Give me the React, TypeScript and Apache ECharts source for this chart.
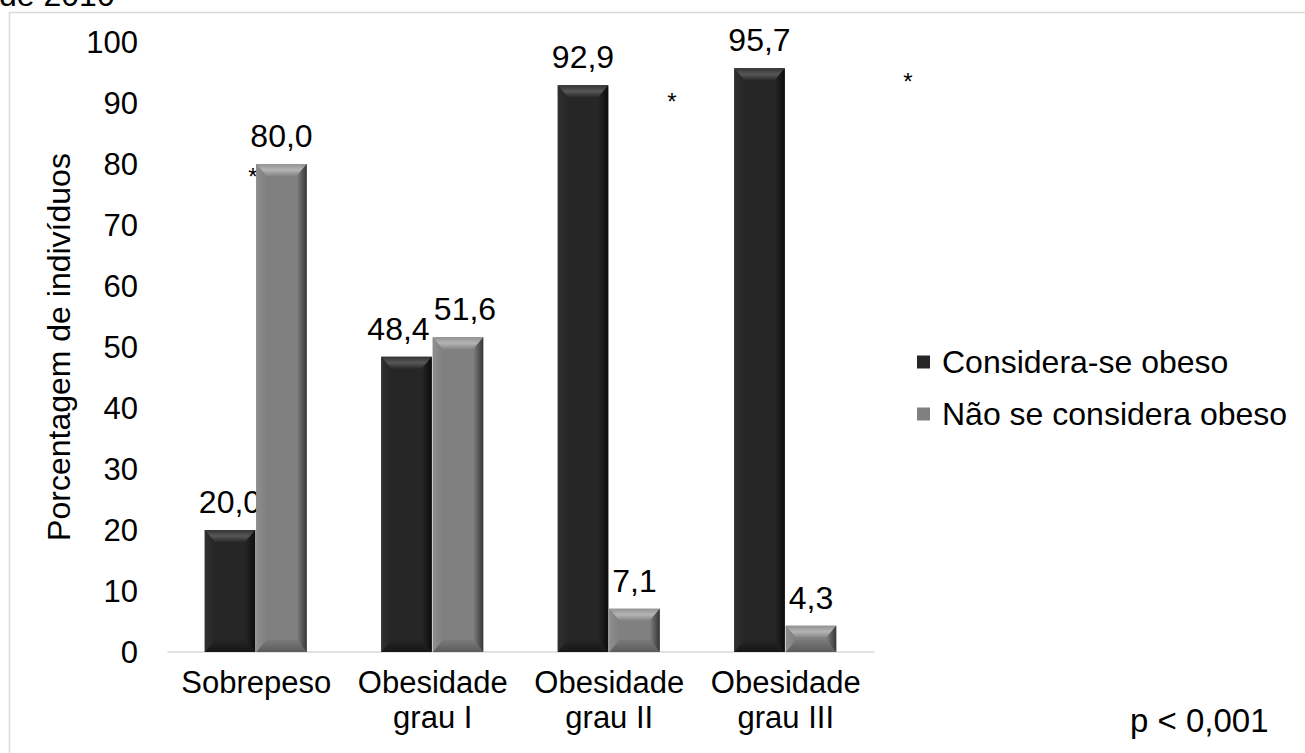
import React, { useEffect, useRef } from "react";
import * as echarts from "echarts";

const categories = ["Sobrepeso", "Obesidade\ngrau I", "Obesidade\ngrau II", "Obesidade\ngrau III"];
const seriesNames = ["Considera-se obeso", "Não se considera obeso"];
const consideraValues = [20.0, 48.4, 92.9, 95.7];
const naoConsideraValues = [80.0, 51.6, 7.1, 4.3];
const yTicks = { min: 0, max: 100, interval: 10 };

// label horizontal nudges (style only)
const labelNudge = [
  [0, -8, 0, 0],
  [0, 7, 0, 0],
];

const FONT = "Liberation Sans, Arial, sans-serif";

const palettes = [
  {
    face: "#262626",
    top: ["#333333", "#575757", "#2a2a2a"],
    left: ["#303030", "#262626"],
    right: ["#262626", "#0c0c0c"],
    bottom: ["#262626", "#161616"],
  },
  {
    face: "#808080",
    top: ["#939393", "#b4b4b4", "#858585"],
    left: ["#8e8e8e", "#808080"],
    right: ["#808080", "#363636"],
    bottom: ["#7a7a7a", "#5c5c5c"],
  },
];

const fmt = (v: number) => v.toFixed(1).replace(".", ",");

const makeRender = (si: number) => (params: any, api: any) => {
  const cat = api.value(0);
  const v = api.value(1);
  const band = api.size([1, 0])[0];
  const w = band * 0.286;
  const [cx, yTop] = api.coord([cat, v]);
  const [, yBase] = api.coord([cat, 0]);
  const x0 = si === 0 ? cx - 1 - w : cx;
  const h = yBase - yTop;
  const b = Math.min(12, h / 2);
  const s = Math.min(10, w / 2);
  const p = palettes[si];
  const lin = (x2: number, y2: number, cols: string[]) => ({
    type: "linear",
    x: 0,
    y: 0,
    x2,
    y2,
    colorStops: cols.map((c, i) => ({ offset: i / (cols.length - 1), color: c })),
  });
  const nudge = labelNudge[si][params.dataIndex] || 0;
  return {
    type: "group",
    children: [
      { type: "rect", shape: { x: x0, y: yTop, width: w, height: h }, style: { fill: p.face } },
      {
        type: "polygon",
        shape: { points: [[x0, yTop], [x0 + w, yTop], [x0 + w - s, yTop + b], [x0 + s, yTop + b]] },
        style: { fill: lin(0, 1, p.top) },
      },
      {
        type: "polygon",
        shape: { points: [[x0, yBase], [x0 + w, yBase], [x0 + w - s, yBase - b], [x0 + s, yBase - b]] },
        style: { fill: lin(0, 1, p.bottom) },
      },
      {
        type: "polygon",
        shape: { points: [[x0, yTop], [x0 + s, yTop + b], [x0 + s, yBase - b], [x0, yBase]] },
        style: { fill: lin(1, 0, p.left) },
      },
      {
        type: "polygon",
        shape: { points: [[x0 + w, yTop], [x0 + w - s, yTop + b], [x0 + w - s, yBase - b], [x0 + w, yBase]] },
        style: { fill: lin(1, 0, p.right) },
      },
      {
        type: "text",
        style: {
          text: fmt(v),
          x: x0 + w / 2 + nudge,
          y: yTop - 28,
          align: "center",
          verticalAlign: "middle",
          fontSize: 32,
          fontFamily: FONT,
          fill: "#000",
        },
      },
    ],
  };
};

export default function App() {
  const ref = useRef<HTMLDivElement>(null);
  useEffect(() => {
    if (!ref.current) return;
    const chart = echarts.init(ref.current, undefined, { renderer: "svg" });
    const dataSets = [consideraValues, naoConsideraValues];
    const star = (x: number, y: number) => ({
      type: "text",
      x,
      y,
      style: { text: "*", fontSize: 24, fontFamily: FONT, fill: "#000", align: "center", verticalAlign: "middle" },
    });
    chart.setOption({
      animation: false,
      backgroundColor: "#ffffff",
      textStyle: { fontFamily: FONT },
      grid: { left: 168, right: 431, top: 42, bottom: 101 },
      legend: {
        orient: "vertical",
        left: 917,
        top: 346,
        padding: 0,
        itemWidth: 13,
        itemHeight: 13,
        itemGap: 20,
        icon: "rect",
        textStyle: { fontSize: 32, color: "#000", fontFamily: FONT, lineHeight: 32, padding: [0, 0, 0, 7] },
        data: seriesNames.map((n, i) => ({ name: n, itemStyle: { color: palettes[i].face } })),
      },
      xAxis: {
        type: "category",
        data: categories,
        axisLine: { lineStyle: { color: "#d9d9d9", width: 1.5 } },
        axisTick: { show: false },
        axisLabel: { interval: 0, fontSize: 31, color: "#000", lineHeight: 35, margin: 13, fontFamily: FONT },
      },
      yAxis: {
        type: "value",
        min: yTicks.min,
        max: yTicks.max,
        interval: yTicks.interval,
        axisLine: { show: false },
        axisTick: { show: false },
        splitLine: { show: false },
        axisLabel: { fontSize: 31, color: "#000", margin: 30, fontFamily: FONT },
        name: "Porcentagem de indivíduos",
        nameLocation: "middle",
        nameGap: 85,
        nameTextStyle: { fontSize: 32, color: "#000", fontFamily: FONT },
      },
      series: dataSets.map((vals, si) => ({
        type: "custom",
        name: seriesNames[si],
        itemStyle: { color: palettes[si].face },
        renderItem: makeRender(si),
        encode: { x: 0, y: 1 },
        data: vals.map((v, i) => [i, v]),
      })),
      graphic: [
        {
          type: "rect",
          shape: { x: 9.5, y: 12.5, width: 1310, height: 760 },
          style: { fill: "none", stroke: "#d9d9d9", lineWidth: 1.5 },
          silent: true,
        },
        {
          type: "text",
          x: -1,
          y: -21,
          style: { text: "de 2010", fontSize: 32, fontFamily: FONT, fill: "#000", align: "left", verticalAlign: "top" },
        },
        star(253, 176),
        star(672, 101),
        star(908, 81),
        {
          type: "text",
          x: 1130,
          y: 720,
          style: { text: "p < 0,001", fontSize: 33, fontFamily: FONT, fill: "#000", align: "left", verticalAlign: "middle" },
        },
      ],
    });
    return () => chart.dispose();
  }, []);
  return <div ref={ref} style={{ position: "absolute", left: 0, top: 0, width: 1305, height: 753 }} />;
}
